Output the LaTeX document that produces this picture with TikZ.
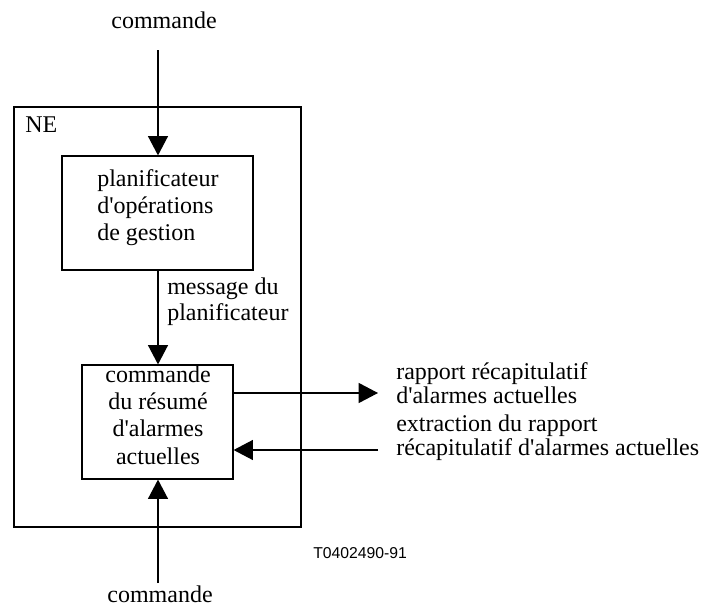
\documentclass[tikz,border=0pt]{standalone}
\usepackage{fontspec}
\setmainfont{Liberation Serif}[Ligatures=TeXOff]
\newfontfamily\labsans{Liberation Sans}
\usetikzlibrary{arrows.meta}
\begin{document}
\begin{tikzpicture}[x=0.75pt,y=-0.75pt,
  box/.style={draw,line width=0.9pt,inner sep=0pt},
  arr/.style={line width=0.9pt,-{Triangle[length=14.5pt,width=15pt]}},
  lbl/.style={inner sep=0pt,font=\fontsize{18}{18}\selectfont}]
\useasboundingbox (0,0) rectangle (701,607);
% boxes
\node[box,minimum width=215.25pt,minimum height=315pt] (ne) at (157.5,317) {};
\node[box,minimum width=143.25pt,minimum height=85.5pt] (p1) at (157.5,213) {};
\node[box,minimum width=113.25pt,minimum height=85.5pt] (p2) at (157.5,422) {};
% texts
\node[lbl,anchor=base west] (tne) at (25,132) {NE};
\node[lbl,anchor=base west,align=left,font=\fontsize{18}{20}\selectfont] (tp1) at (97,240)
  {planificateur\\d'opérations\\de gestion};
\node[lbl,anchor=base,align=center,font=\fontsize{18}{20.3}\selectfont] (tp2) at (158,464)
  {commande\\du résumé\\d'alarmes\\actuelles};
\node[lbl,anchor=base west,align=left,font=\fontsize{18}{19.5}\selectfont] (tmsg) at (167,320)
  {message du\\planificateur};
\node[lbl,anchor=base west,align=left] (tr1) at (396,403)
  {rapport récapitulatif\\d'alarmes actuelles};
\node[lbl,anchor=base west,align=left,font=\fontsize{18}{17.5}\selectfont] (tr2) at (396,455)
  {extraction du rapport\\récapitulatif d'alarmes actuelles};
\node[lbl,anchor=base] (ttop) at (164,28) {commande};
\node[lbl,anchor=base] (tbot) at (160,602) {commande};
\node[inner sep=0pt,anchor=base west,font=\labsans\fontsize{11.8}{12}\selectfont] (tref) at (313,558) {T0402490-91};
% connectors
\coordinate (c1) at (158,50);
\coordinate (c2) at (158,583);
\coordinate (r1) at (378,393);
\coordinate (r2) at (378,450);
\draw[arr] (c1) -- (c1 |- p1.north);
\draw[arr] (p1.south -| c1) -- (p2.north -| c1);
\draw[arr] (c2) -- (c2 |- p2.south);
\draw[arr] (p2.east |- r1) -- (r1);
\draw[arr] (r2) -- (r2 -| p2.east);
\end{tikzpicture}
\end{document}
